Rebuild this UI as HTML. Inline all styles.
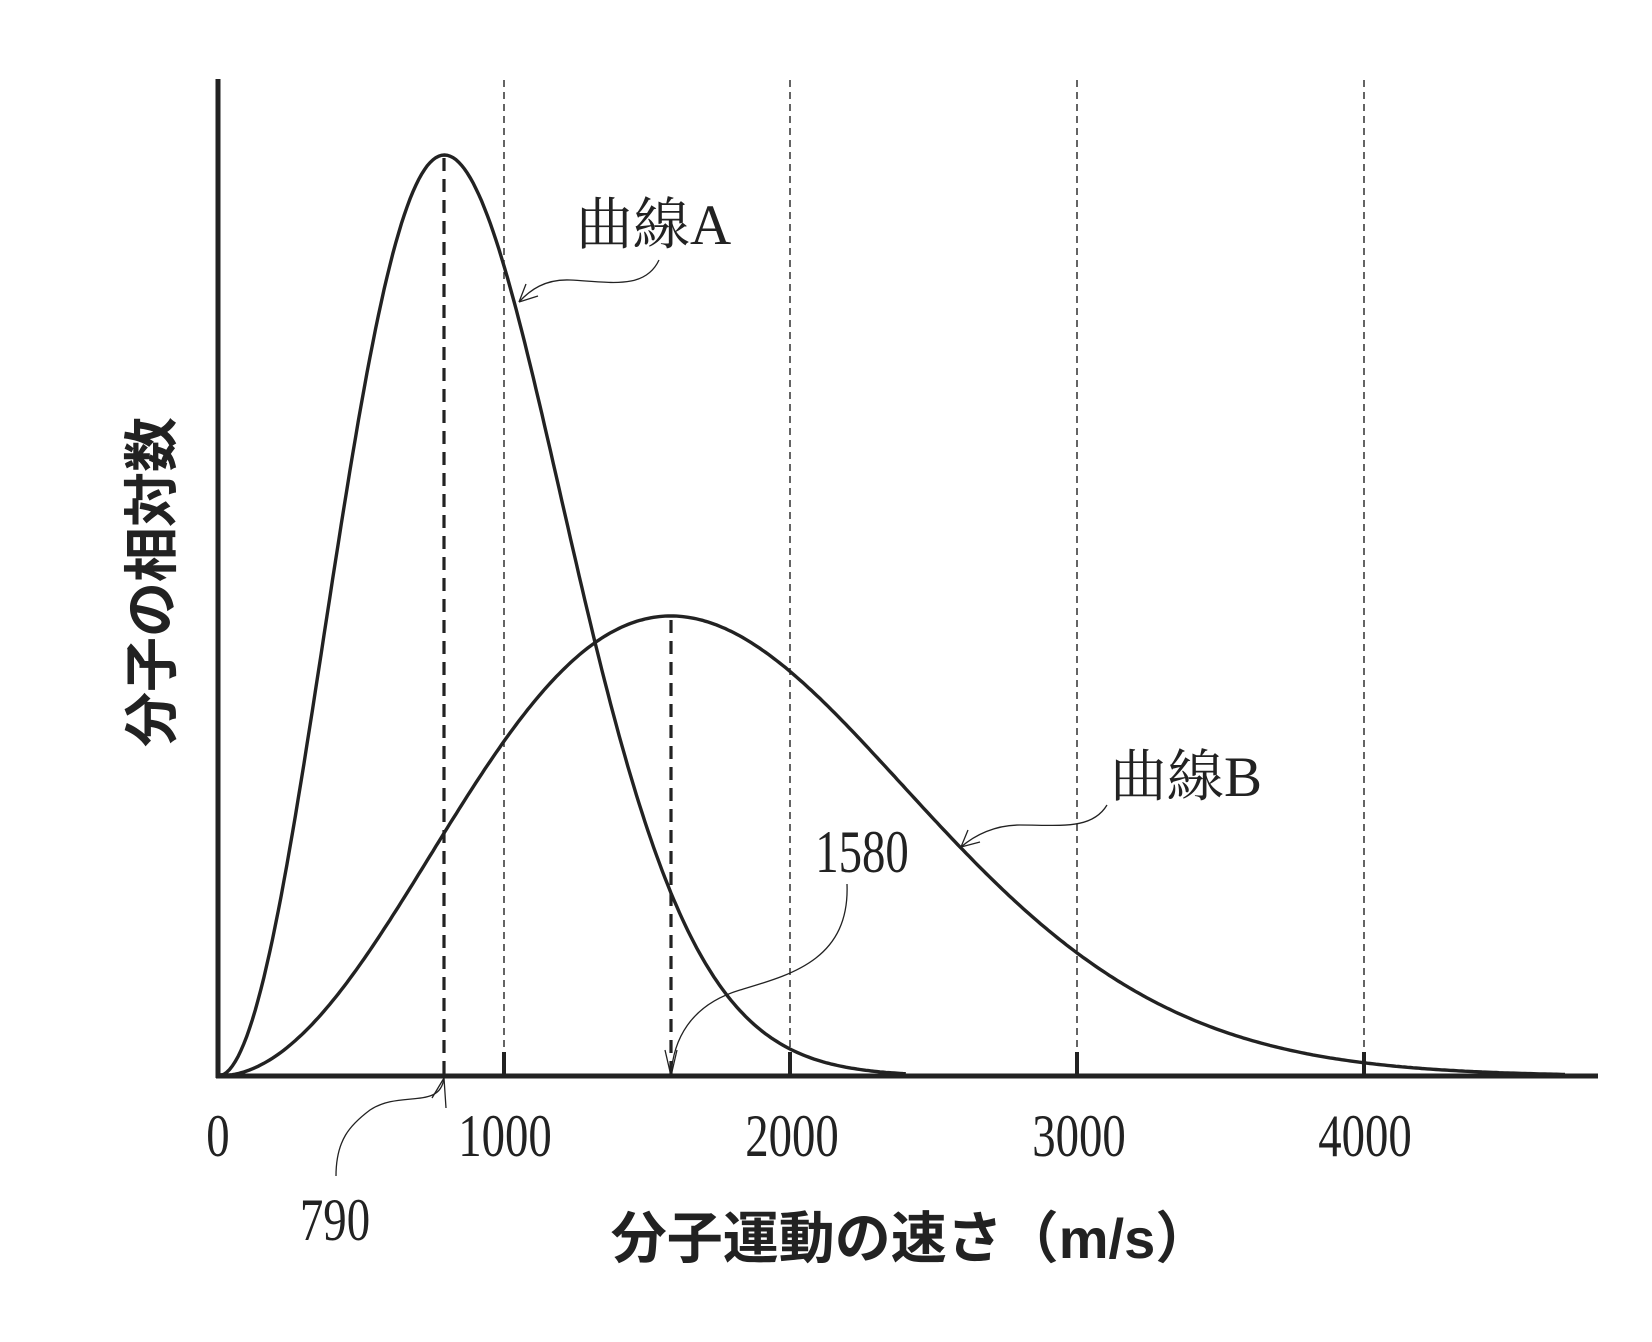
<!DOCTYPE html>
<html><head><meta charset="utf-8"><style>
html,body{margin:0;padding:0;background:#fff;}
svg{display:block;}
.n{font-family:"Liberation Serif","Noto Serif CJK SC",serif;fill:#222;}
.j{font-family:"Liberation Sans","Noto Sans CJK JP",sans-serif;font-weight:bold;fill:#222;}
</style></head><body>
<svg id="s" width="1652" height="1342" viewBox="0 0 1652 1342" xmlns="http://www.w3.org/2000/svg">
<g stroke="#222" fill="none">
<line x1="218" y1="79" x2="218" y2="1078" stroke-width="5"/>
<line x1="216" y1="1076" x2="1598" y2="1076" stroke-width="5"/>
<g stroke-width="1.4" stroke-dasharray="7 5">
<line x1="504" y1="80" x2="504" y2="1052"/>
<line x1="790" y1="80" x2="790" y2="1052"/>
<line x1="1077" y1="80" x2="1077" y2="1052"/>
<line x1="1364" y1="80" x2="1364" y2="1052"/>
</g>
<g stroke-width="4">
<line x1="504" y1="1052" x2="504" y2="1076"/>
<line x1="790" y1="1052" x2="790" y2="1076"/>
<line x1="1077" y1="1052" x2="1077" y2="1076"/>
<line x1="1364" y1="1052" x2="1364" y2="1076"/>
</g>
<g stroke-width="3.2" stroke-dasharray="13 8">
<line x1="444" y1="158" x2="444" y2="1076"/>
<line x1="671" y1="620" x2="671" y2="1076"/>
</g>
<path id="cA" stroke-width="3.4"/>
<path id="cB" stroke-width="3.4"/>
<g stroke-width="1.3">
<path d="M659 260 C645 290 610 282 570 280 C545 279 530 290 519 302"/>
<path d="M519 302 L526 284 M519 302 L538 296"/>
<path d="M1107 805 C1092 830 1060 825 1020 825 C995 825 975 835 961 847"/>
<path d="M961 847 L968 830 M961 847 L980 842"/>
<path d="M847 884 C850 960 790 975 740 990 C690 1005 673 1040 671 1076"/>
<path d="M671 1076 L665 1050 M671 1076 L677 1050"/>
<path d="M336 1176 C336 1140 350 1125 370 1110 C400 1090 440 1110 444 1078"/>
<path d="M444 1078 L446 1108 M444 1078 L432 1098"/>
</g>
</g>
<g class="n" font-size="60">
<text x="218" y="1156" text-anchor="middle" transform="translate(218 0) scale(0.78 1) translate(-218 0)">0</text>
<text x="505" y="1156" text-anchor="middle" transform="translate(505 0) scale(0.78 1) translate(-505 0)">1000</text>
<text x="792" y="1156" text-anchor="middle" transform="translate(792 0) scale(0.78 1) translate(-792 0)">2000</text>
<text x="1079" y="1156" text-anchor="middle" transform="translate(1079 0) scale(0.78 1) translate(-1079 0)">3000</text>
<text x="1365" y="1156" text-anchor="middle" transform="translate(1365 0) scale(0.78 1) translate(-1365 0)">4000</text>
<text x="335" y="1240" text-anchor="middle" transform="translate(335 0) scale(0.78 1) translate(-335 0)">790</text>
<text x="862" y="872" text-anchor="middle" transform="translate(862 0) scale(0.78 1) translate(-862 0)">1580</text>
<text x="576" y="244" font-size="57">曲線A</text>
<text x="1110" y="796" font-size="57">曲線B</text>
</g>
<text class="j" x="911" y="1258" font-size="56" text-anchor="middle">分子運動の速さ（m/s）</text>
<text class="j" x="0" y="0" font-size="55" text-anchor="middle" transform="translate(171 582) rotate(-90)">分子の相対数</text>
</svg>
<script>
function mk(vp,H,vmax){var d="";for(var v=0;v<=vmax;v+=10){var r=v/vp;var y=1076-H*r*r*Math.exp(1-r*r);if(y>1075)y=1075;var x=218+v*0.2866;d+=(v?"L":"M")+x.toFixed(1)+" "+y.toFixed(1);}return d;}
document.getElementById("cA").setAttribute("d",mk(790,921,2400));
document.getElementById("cB").setAttribute("d",mk(1580,460,4700));
</script>
</body></html>
